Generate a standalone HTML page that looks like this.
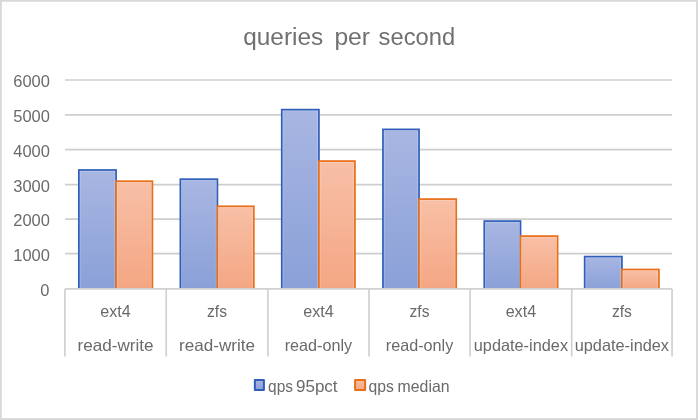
<!DOCTYPE html>
<html lang="en"><head><meta charset="utf-8"><title>queries per second</title>
<style>html,body{margin:0;padding:0;background:#fff}svg{display:block}svg{font-family:"Liberation Sans",sans-serif;fill:#6a6a6a}.t{fill:#707070}</style></head><body>
<svg width="698" height="420" viewBox="0 0 698 420">
<defs><linearGradient id="gb" x1="0" y1="0" x2="0" y2="1"><stop offset="0" stop-color="#a8b6e2"/><stop offset="1" stop-color="#8aa0d8"/></linearGradient>
<linearGradient id="go" x1="0" y1="0" x2="0" y2="1"><stop offset="0" stop-color="#f8c0a7"/><stop offset="1" stop-color="#f4a683"/></linearGradient></defs>
<rect x="0" y="0" width="698" height="420" fill="#fff"/>
<g fill="#d9d9d9"><rect x="0" y="0" width="698" height="1.75"/><rect x="0" y="0" width="1.8" height="420"/><rect x="696.1" y="0" width="1.9" height="420"/><rect x="0" y="418" width="698" height="2"/></g>
<g stroke="#cecece" stroke-width="1.7">
<line x1="65" y1="80.00" x2="672" y2="80.00"/>
<line x1="65" y1="114.90" x2="672" y2="114.90"/>
<line x1="65" y1="149.60" x2="672" y2="149.60"/>
<line x1="65" y1="184.60" x2="672" y2="184.60"/>
<line x1="65" y1="219.20" x2="672" y2="219.20"/>
<line x1="65" y1="253.70" x2="672" y2="253.70"/>
</g>
<g stroke-width="1.75">
<rect x="78.88" y="170.00" width="37.17" height="119.80" fill="url(#gb)" stroke="#2f5fba"/>
<rect x="116.05" y="181.20" width="36.37" height="108.60" fill="url(#go)" stroke="#e96f19"/>
<rect x="180.38" y="179.20" width="37.02" height="110.60" fill="url(#gb)" stroke="#2f5fba"/>
<rect x="217.40" y="206.30" width="36.42" height="83.50" fill="url(#go)" stroke="#e96f19"/>
<rect x="281.78" y="109.65" width="37.12" height="180.15" fill="url(#gb)" stroke="#2f5fba"/>
<rect x="318.90" y="161.10" width="36.02" height="128.70" fill="url(#go)" stroke="#e96f19"/>
<rect x="382.98" y="129.40" width="36.02" height="160.40" fill="url(#gb)" stroke="#2f5fba"/>
<rect x="419.00" y="199.10" width="37.22" height="90.70" fill="url(#go)" stroke="#e96f19"/>
<rect x="484.28" y="221.10" width="36.22" height="68.70" fill="url(#gb)" stroke="#2f5fba"/>
<rect x="520.50" y="236.10" width="37.12" height="53.70" fill="url(#go)" stroke="#e96f19"/>
<rect x="584.68" y="256.60" width="37.22" height="33.20" fill="url(#gb)" stroke="#2f5fba"/>
<rect x="621.90" y="269.50" width="37.02" height="20.30" fill="url(#go)" stroke="#e96f19"/>
</g>
<g fill="none" stroke="#fff" stroke-opacity="0.3" stroke-width="0.7">
<rect x="80.08" y="171.20" width="34.77" height="119.80"/>
<rect x="117.25" y="182.40" width="33.97" height="108.60"/>
<rect x="181.58" y="180.40" width="34.62" height="110.60"/>
<rect x="218.60" y="207.50" width="34.02" height="83.50"/>
<rect x="282.98" y="110.85" width="34.72" height="180.15"/>
<rect x="320.10" y="162.30" width="33.62" height="128.70"/>
<rect x="384.18" y="130.60" width="33.62" height="160.40"/>
<rect x="420.20" y="200.30" width="34.82" height="90.70"/>
<rect x="485.48" y="222.30" width="33.82" height="68.70"/>
<rect x="521.70" y="237.30" width="34.72" height="53.70"/>
<rect x="585.88" y="257.80" width="34.82" height="33.20"/>
<rect x="623.10" y="270.70" width="34.62" height="20.30"/>
</g>
<rect x="60" y="288.05" width="620" height="5" fill="#fff"/>
<g stroke="#d1d1d1" stroke-width="1.7">
<line x1="64.9" y1="288.80" x2="672.0" y2="288.80"/>
<line x1="64.90" y1="289.10" x2="64.90" y2="356.5"/>
<line x1="166.20" y1="289.10" x2="166.20" y2="356.5"/>
<line x1="267.90" y1="289.10" x2="267.90" y2="356.5"/>
<line x1="369.00" y1="289.10" x2="369.00" y2="356.5"/>
<line x1="470.10" y1="289.10" x2="470.10" y2="356.5"/>
<line x1="571.70" y1="289.10" x2="571.70" y2="356.5"/>
<line x1="672.05" y1="289.10" x2="672.05" y2="356.5"/>
</g>
<g font-size="24.6" class="t">
<text x="243.2" y="45" textLength="80" lengthAdjust="spacingAndGlyphs">queries</text>
<text x="334.4" y="45" textLength="35.6" lengthAdjust="spacingAndGlyphs">per</text>
<text x="378.6" y="45" textLength="76.5" lengthAdjust="spacingAndGlyphs">second</text>
</g>
<g font-size="16" text-anchor="end">
<text x="49.90" y="87.00" textLength="36.60" lengthAdjust="spacingAndGlyphs">6000</text>
<text x="49.90" y="122.00" textLength="36.60" lengthAdjust="spacingAndGlyphs">5000</text>
<text x="49.90" y="157.00" textLength="36.60" lengthAdjust="spacingAndGlyphs">4000</text>
<text x="49.90" y="192.00" textLength="36.60" lengthAdjust="spacingAndGlyphs">3000</text>
<text x="49.90" y="226.00" textLength="36.60" lengthAdjust="spacingAndGlyphs">2000</text>
<text x="49.90" y="261.00" textLength="36.60" lengthAdjust="spacingAndGlyphs">1000</text>
<text x="49.30" y="296.00" textLength="9.15" lengthAdjust="spacingAndGlyphs">0</text>
</g>
<g font-size="16.5" text-anchor="middle">
<text x="115.55" y="317" textLength="30.50" lengthAdjust="spacingAndGlyphs">ext4</text>
<text x="115.55" y="351" textLength="76.00" lengthAdjust="spacingAndGlyphs">read-write</text>
<text x="217.05" y="317" textLength="20.00" lengthAdjust="spacingAndGlyphs">zfs</text>
<text x="217.05" y="351" textLength="76.00" lengthAdjust="spacingAndGlyphs">read-write</text>
<text x="318.45" y="317" textLength="30.50" lengthAdjust="spacingAndGlyphs">ext4</text>
<text x="318.45" y="351" textLength="67.50" lengthAdjust="spacingAndGlyphs">read-only</text>
<text x="419.55" y="317" textLength="20.00" lengthAdjust="spacingAndGlyphs">zfs</text>
<text x="419.55" y="351" textLength="67.50" lengthAdjust="spacingAndGlyphs">read-only</text>
<text x="520.90" y="317" textLength="30.50" lengthAdjust="spacingAndGlyphs">ext4</text>
<text x="520.90" y="351" textLength="94.30" lengthAdjust="spacingAndGlyphs">update-index</text>
<text x="621.88" y="317" textLength="20.00" lengthAdjust="spacingAndGlyphs">zfs</text>
<text x="621.88" y="351" textLength="94.30" lengthAdjust="spacingAndGlyphs">update-index</text>
</g>
<g stroke-width="2" stroke-linejoin="round">
<rect x="254.85" y="379.9" width="9.05" height="10" fill="url(#gb)" stroke="#2f5fba"/>
<rect x="355.1" y="379.9" width="10" height="10" fill="url(#go)" stroke="#e96f19"/>
</g>
<g font-size="16.5">
<text x="268.1" y="392" textLength="24.9" lengthAdjust="spacingAndGlyphs">qps</text>
<text x="296.0" y="392" textLength="41.6" lengthAdjust="spacingAndGlyphs">95pct</text>
<text x="368.6" y="392" textLength="25.3" lengthAdjust="spacingAndGlyphs">qps</text>
<text x="397.6" y="392" textLength="52.0" lengthAdjust="spacingAndGlyphs">median</text>
</g>
</svg></body></html>
